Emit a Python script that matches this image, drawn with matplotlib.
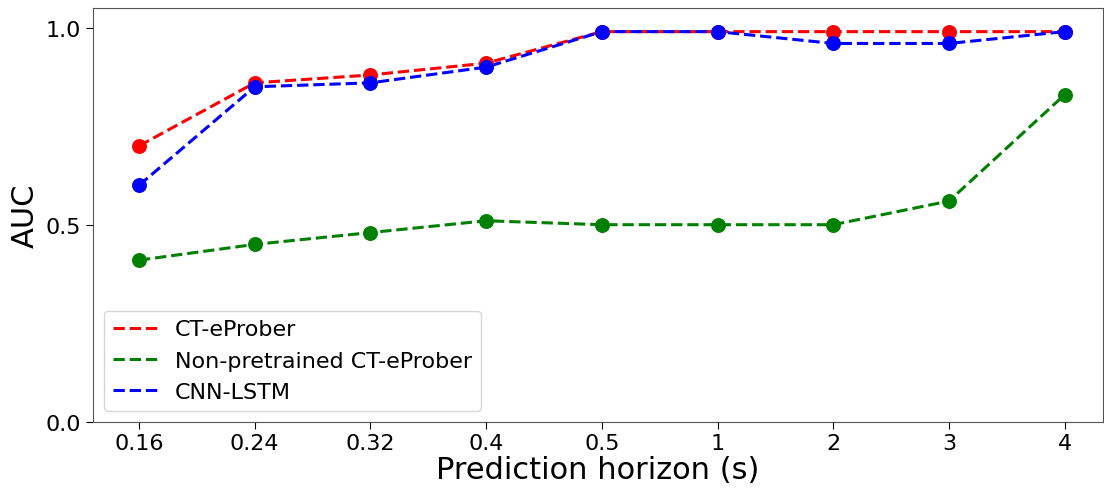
import matplotlib
matplotlib.use("Agg")
import matplotlib.pyplot as plt

# Prediction horizons (categorical on the x axis)
horizons = ["0.16", "0.24", "0.32", "0.4", "0.5", "1", "2", "3", "4"]

# AUC per model
auc_ct_eprober = [0.70, 0.86, 0.88, 0.91, 0.99, 0.99, 0.99, 0.99, 0.99]
auc_non_pretrained = [0.41, 0.45, 0.48, 0.51, 0.50, 0.50, 0.50, 0.56, 0.83]
auc_cnn_lstm = [0.60, 0.85, 0.86, 0.90, 0.99, 0.99, 0.96, 0.96, 0.99]

fig = plt.figure(figsize=(11.04, 4.89), dpi=100)
ax = fig.add_axes([0.084, 0.1356, 0.915, 0.846])

x = range(len(horizons))
ax.plot(x, auc_ct_eprober, "--", color="red", linewidth=2.2, label="CT-eProber")
ax.plot(x, auc_non_pretrained, "--", color="green", linewidth=2.2, label="Non-pretrained CT-eProber")
ax.plot(x, auc_cnn_lstm, "--", color="blue", linewidth=2.2, label="CNN-LSTM")
ax.scatter(x, auc_ct_eprober, color="red", s=95, zorder=3)
ax.scatter(x, auc_non_pretrained, color="green", s=95, zorder=3)
ax.scatter(x, auc_cnn_lstm, color="blue", s=95, zorder=3)

ax.set_xticks(list(x), horizons)
ax.set_yticks([0.0, 0.5, 1.0])
ax.set_xlim(-0.4, 8.33)
ax.set_ylim(0, 1.05)
ax.tick_params(labelsize=16, length=5)
ax.set_xlabel("Prediction horizon (s)", fontsize=22, labelpad=1)
ax.set_ylabel("AUC", fontsize=22)

for part in ["bottom", "left", "right", "top"]:
    ax.spines[part].set_color("#555555")

ax.legend(loc="lower left", fontsize=16)

fig.savefig("out.png", dpi=100)
